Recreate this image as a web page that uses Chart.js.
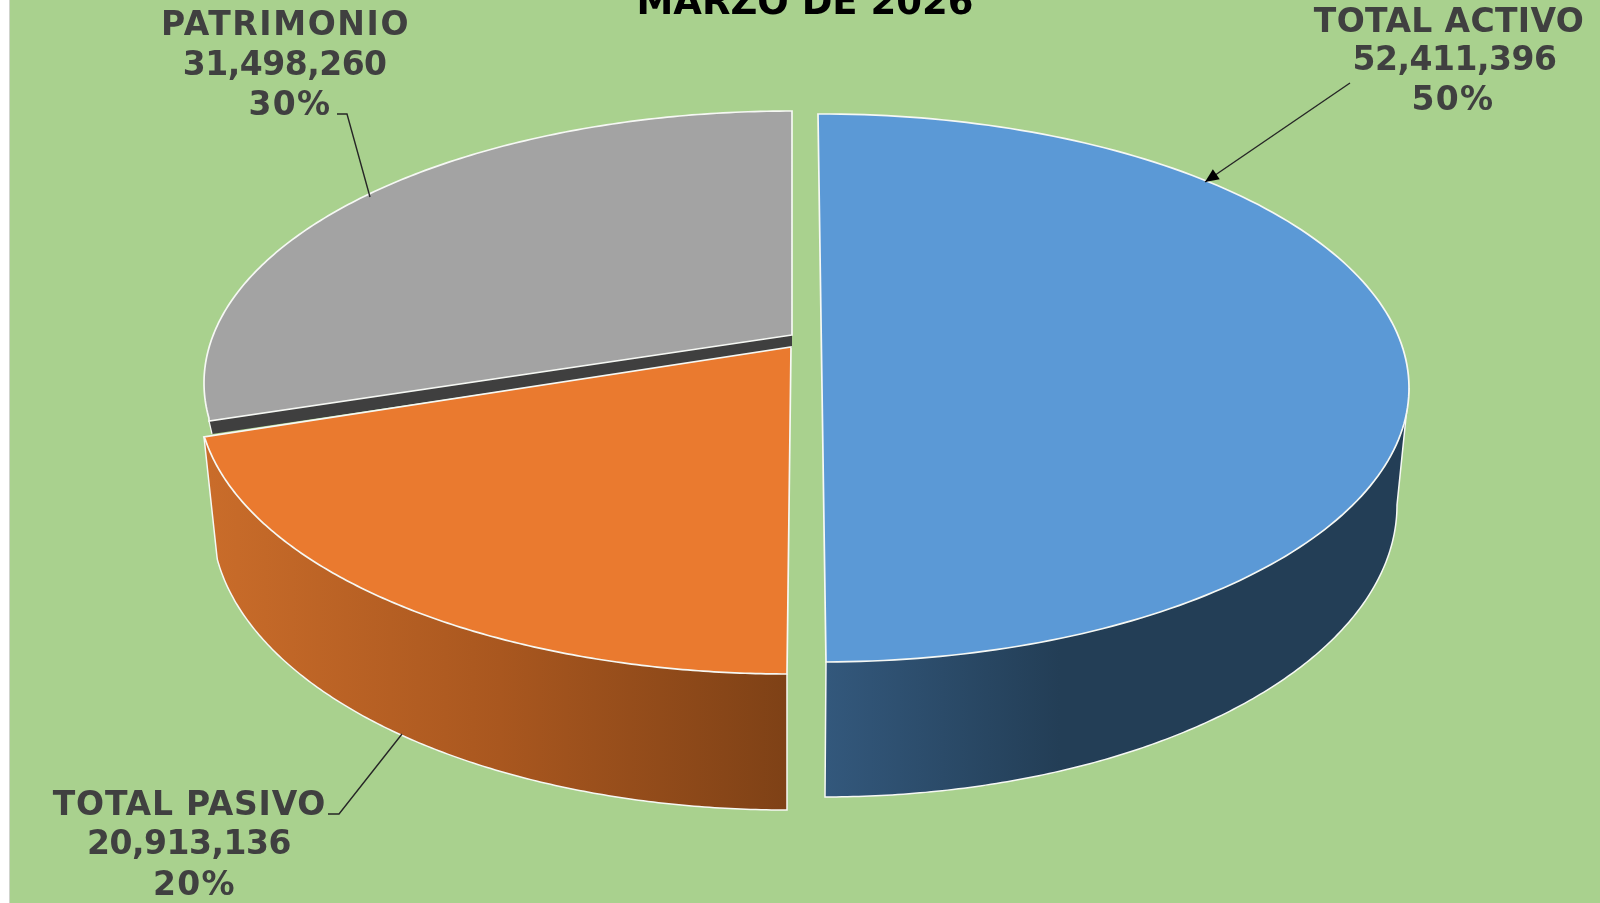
<!DOCTYPE html>
<html><head><meta charset="utf-8">
<style>html,body{margin:0;padding:0;background:#fff;overflow:hidden}#w{position:absolute;left:0;top:0;width:1600px;height:903px}canvas{filter:blur(.45px)}</style>
<script src="https://cdn.jsdelivr.net/npm/chart.js@4"></script></head>
<body><div id="w"><canvas id="c" width="1600" height="903"></canvas></div>
<script>
const categories = ['TOTAL ACTIVO','TOTAL PASIVO','PATRIMONIO'];
const values = [52411396,20913136,31498260];
const colors = ['#5b99d6','#ea7a2f','#a3a3a3'];
const titleText = 'MARZO DE 2026';
// projected faces: apex, ellipse [cx,cy,rx,ry], rim corners at start and end of the sweep
const topFaces = [
 {A:[822,388],E:[822,388,587,274],S:[818,114],T:[826,662]},
 {A:[791,347],E:[788,396,590,278],S:[787,674],T:[204,437]},
 {A:[792,335],E:[792,383,588,272],S:[209,421],T:[792,111]}
];
const lowFaces = [
 {A:[824,505],E:[824,505,573,292],S:[1397,505],T:[825,797]},
 {A:[790,479],E:[787,520,575,290],S:[787,810],T:[217,557]},
 {A:[792,348],E:[792,396,588,272],S:[212,434],T:[792,124]}
];
const labelRowX = [[1449,1454.5,1453],[189.5,189,194.5],[285.5,284.7,290]];
const labelRowY = [[32,69.5,110],[815,854,895],[35,75,115]];
const nameSpacing = ['0.35px','0.75px','1.6px'];
const leaders = [[[1350,83],[1205,182]],[[328,814],[339,814],[402,734]],[[337,114],[347,114],[370,197]]];
const wallStops = [
 [[826,'#33587c'],[1060,'#233e56'],[1400,'#233e56']],
 [[210,'#c96c2a'],[500,'#a9571f'],[790,'#7e4116']]
];
function rim(g){
  const [cx,cy,rx,ry]=g.E;
  let a=Math.atan2((g.S[1]-cy)/ry,(g.S[0]-cx)/rx),b=Math.atan2((g.T[1]-cy)/ry,(g.T[0]-cx)/rx);
  while(b<a)b+=2*Math.PI;
  const o=[g.S.slice()];
  for(let i=1;i<160;i++){const t=a+(b-a)*i/160;o.push([cx+rx*Math.cos(t),cy+ry*Math.sin(t)]);}
  o.push(g.T.slice());
  return o;
}
function poly(ctx,p){p.forEach((q,k)=>k?ctx.lineTo(q[0],q[1]):ctx.moveTo(q[0],q[1]));}
function cover(arc,g){
  // affine map of the library arc, over-scaled; the face outline clips it
  const k=1.4,s=arc.startAngle,e=arc.endAngle,R=arc.outerRadius,b=(e-s)>3?s+(e-s)/2:e;
  const Q=(e-s)>3?[g.E[0]+g.E[2],g.E[1]]:g.T;
  const x0=R*Math.cos(s),y0=R*Math.sin(s),x1=R*Math.cos(b),y1=R*Math.sin(b);
  const px=k*(g.S[0]-g.A[0]),py=k*(g.S[1]-g.A[1]),qx=k*(Q[0]-g.A[0]),qy=k*(Q[1]-g.A[1]);
  const d=x0*y1-x1*y0;
  return {a:(px*y1-qx*y0)/d,c:(qx*x0-px*x1)/d,b:(py*y1-qy*y0)/d,d:(qy*x0-py*x1)/d};
}
function drawFace(ctx,arc,i){
  const g=topFaces[i],r=rim(g),m=cover(arc,g);
  ctx.save();
  ctx.beginPath();ctx.moveTo(g.A[0],g.A[1]);r.forEach(q=>ctx.lineTo(q[0],q[1]));ctx.closePath();ctx.clip();
  ctx.transform(m.a,m.b,m.c,m.d,g.A[0]-(m.a*arc.x+m.c*arc.y),g.A[1]-(m.b*arc.x+m.d*arc.y));
  arc.draw(ctx);
  ctx.restore();
  ctx.strokeStyle='#f6f8f4';ctx.lineWidth=1.7;ctx.lineJoin='miter';
  ctx.beginPath();ctx.moveTo(g.A[0],g.A[1]);r.forEach(q=>ctx.lineTo(q[0],q[1]));ctx.closePath();ctx.stroke();
}
function drawWall(ctx,i){
  const stops=wallStops[i],x0=stops[0][0],span=stops[stops.length-1][0]-x0,
        gr=ctx.createLinearGradient(x0,0,x0+span,0);
  stops.forEach(s=>gr.addColorStop((s[0]-x0)/span,s[1]));
  let up,lo;
  if(i===0){
    up=rim({E:topFaces[0].E,S:[topFaces[0].E[0]+topFaces[0].E[2],topFaces[0].E[1]],T:topFaces[0].T});
    lo=rim(lowFaces[0]);
  } else {
    up=rim(topFaces[1]);lo=rim(lowFaces[1]);
  }
  ctx.fillStyle=gr;ctx.beginPath();poly(ctx,up.concat(lo.slice().reverse()));ctx.closePath();ctx.fill();
  ctx.strokeStyle='#f6f8f4';ctx.lineWidth=1.5;
  ctx.beginPath();poly(ctx,[up[0],lo[0]].concat(lo.slice(1)).concat([up[up.length-1]]));ctx.stroke();
}
function drawSliver(ctx){
  const a=topFaces[2],b=lowFaces[2];
  ctx.fillStyle='#3f3f3f';ctx.beginPath();poly(ctx,[a.A,a.S,b.S,b.A]);ctx.closePath();ctx.fill();
  ctx.strokeStyle='#f6f8f4';ctx.lineWidth=1.2;ctx.beginPath();poly(ctx,[a.S,b.S]);ctx.stroke();
}
const scene={id:'scene',
  beforeDatasetsDraw(chart){
    const ctx=chart.ctx,arcs=chart.getDatasetMeta(0).data;
    ctx.save();
    drawSliver(ctx);
    drawFace(ctx,arcs[2],2);
    drawWall(ctx,1);
    drawFace(ctx,arcs[1],1);
    drawWall(ctx,0);
    drawFace(ctx,arcs[0],0);
    ctx.restore();
    return false;
  },
  afterDraw(chart){
    const ctx=chart.ctx,total=values.reduce((a,b)=>a+b,0);
    ctx.save();
    ctx.strokeStyle='#262626';ctx.lineWidth=1.4;
    leaders.forEach(l=>{ctx.beginPath();poly(ctx,l);ctx.stroke();});
    const l=leaders[0],q=l[1],ang=Math.atan2(l[0][1]-q[1],l[0][0]-q[0]);
    ctx.fillStyle='#000';ctx.beginPath();ctx.moveTo(q[0],q[1]);
    ctx.lineTo(q[0]+15*Math.cos(ang-.42),q[1]+15*Math.sin(ang-.42));
    ctx.lineTo(q[0]+15*Math.cos(ang+.42),q[1]+15*Math.sin(ang+.42));ctx.closePath();ctx.fill();
    ctx.textAlign='center';ctx.textBaseline='alphabetic';
    ctx.fillStyle='#000';ctx.font='bold 37px "DejaVu Sans"';ctx.fillText(titleText,805,14);
    ctx.fillStyle='#404040';ctx.font='bold 33px "DejaVu Sans"';
    categories.forEach((c,i)=>{
      const X=labelRowX[i],Y=labelRowY[i];
      ctx.letterSpacing=nameSpacing[i];ctx.fillText(c,X[0],Y[0]);
      ctx.letterSpacing='-0.5px';ctx.fillText(values[i].toLocaleString('en-US'),X[1],Y[1]);
      ctx.letterSpacing='1.3px';ctx.fillText(Math.round(values[i]/total*100)+'%',X[2],Y[2]);
    });
    ctx.restore();
  }
};
const bg={id:'bg',beforeDraw(chart){const c=chart.ctx;c.save();c.fillStyle='#fff';c.fillRect(0,0,1600,903);c.fillStyle='#a9d18e';c.fillRect(10,0,1590,903);c.fillStyle='#cfd3cc';c.fillRect(9,0,1,903);c.restore();}};
new Chart(document.getElementById('c'),{
  type:'pie',
  data:{labels:categories,datasets:[{data:values,backgroundColor:colors,borderWidth:0}]},
  options:{responsive:false,animation:false,plugins:{legend:{display:false},tooltip:{enabled:false}},layout:{padding:0}},
  plugins:[bg,scene]
});
</script></body></html>
